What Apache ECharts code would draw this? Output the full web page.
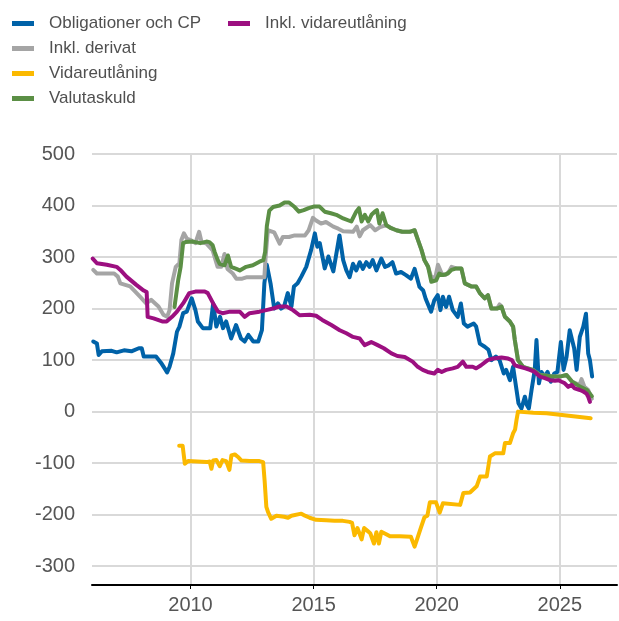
<!DOCTYPE html>
<html>
<head>
    <meta charset="utf-8">
    <style type="text/css">
        *, html, body {
            margin: 0;
            padding: 0;
        }
        html, body, #container {
            width: 619px;
            height: 621px;
            background: #fff;
        }
    </style>
    <script type="text/javascript" src="https://cdn.jsdelivr.net/npm/echarts@6/dist/echarts.min.js"></script>
</head>
<body>
<div id="container"></div>
<script type="text/javascript">
    // [år, mdr kr]
    let obligationer = [
        [2006.05,136],[2006.2,132],[2006.27,110],[2006.4,117],[2006.8,118],[2007.0,115],[2007.3,119],[2007.6,117],
        [2007.9,123],[2008.02,123],[2008.1,107],[2008.6,107],[2008.8,95],[2009.0,80],[2009.05,76],[2009.15,87],
        [2009.3,113],[2009.45,155],[2009.55,165],[2009.7,191],[2009.85,194],[2010.05,220],[2010.2,197],[2010.3,175],
        [2010.5,162],[2010.8,162],[2010.92,210],[2011.05,165],[2011.2,184],[2011.32,162],[2011.45,175],[2011.65,142],
        [2011.85,168],[2012.05,142],[2012.2,136],[2012.35,149],[2012.55,136],[2012.75,136],[2012.9,158],[2013.0,249],
        [2013.1,285],[2013.25,249],[2013.4,200],[2013.55,210],[2013.68,200],[2013.8,204],[2013.95,230],[2014.1,204],
        [2014.2,243],[2014.35,249],[2014.5,262],[2014.7,281],[2014.9,314],[2015.05,346],[2015.15,320],[2015.25,327],
        [2015.45,278],[2015.6,301],[2015.8,272],[2016.05,342],[2016.2,294],[2016.33,274],[2016.46,261],[2016.6,287],
        [2016.73,274],[2016.87,290],[2017.0,277],[2017.14,290],[2017.27,281],[2017.4,294],[2017.55,274],[2017.75,297],
        [2017.9,281],[2018.05,284],[2018.2,290],[2018.35,268],[2018.55,271],[2018.75,265],[2018.95,258],[2019.1,277],
        [2019.3,242],[2019.45,235],[2019.55,219],[2019.77,194],[2019.9,216],[2020.04,226],[2020.15,197],[2020.25,223],
        [2020.38,203],[2020.5,223],[2020.65,197],[2020.85,184],[2020.98,210],[2021.1,171],[2021.25,165],[2021.5,171],
        [2021.6,165],[2021.75,132],[2021.95,126],[2022.1,120],[2022.22,100],[2022.4,107],[2022.55,100],[2022.72,74],
        [2022.82,81],[2022.97,61],[2023.1,87],[2023.24,42],[2023.32,16],[2023.44,6],[2023.58,29],[2023.66,13],
        [2023.74,6],[2023.85,42],[2023.98,81],[2024.05,139],[2024.15,55],[2024.25,77],[2024.38,68],[2024.5,77],
        [2024.63,58],[2024.77,74],[2024.9,77],[2025.04,135],[2025.15,81],[2025.27,106],[2025.4,158],[2025.58,123],
        [2025.68,81],[2025.81,145],[2025.95,165],[2026.06,190],[2026.15,113],[2026.22,100],[2026.31,68]
    ];
    let inklDerivat = [
        [2006.05,275],[2006.2,268],[2006.9,268],[2007.05,262],[2007.15,249],[2007.55,243],[2007.95,223],[2008.2,210],
        [2008.4,217],[2008.7,204],[2008.9,188],[2009.05,184],[2009.15,197],[2009.25,249],[2009.4,281],[2009.55,288],
        [2009.63,333],[2009.73,346],[2009.85,336],[2010.0,333],[2010.2,327],[2010.35,349],[2010.45,329],[2010.65,326],
        [2010.9,313],[2011.1,281],[2011.25,281],[2011.38,306],[2011.5,277],[2011.72,268],[2011.86,258],[2012.1,258],
        [2012.3,261],[2012.6,261],[2013.0,261],[2013.05,300],[2013.14,352],[2013.4,348],[2013.62,326],[2013.75,339],
        [2014.0,339],[2014.23,342],[2014.5,342],[2014.65,342],[2014.8,352],[2014.97,376],[2015.1,371],[2015.3,365],
        [2015.5,368],[2015.8,359],[2016.0,355],[2016.2,350],[2016.6,349],[2016.75,359],[2016.87,340],[2017.0,352],
        [2017.3,362],[2017.5,352],[2017.7,358],[2017.95,362],[2018.15,356],[2018.36,352],[2018.6,349],[2018.9,349],
        [2019.1,352],[2019.24,333],[2019.38,314],[2019.5,294],[2019.65,281],[2019.78,260],[2019.95,262],[2020.05,285],
        [2020.12,288],[2020.2,268],[2020.35,265],[2020.5,272],[2020.6,281],[2020.8,278],[2021.0,278],[2021.14,249],
        [2021.4,243],[2021.6,243],[2021.75,230],[2021.95,220],[2022.08,226],[2022.22,200],[2022.45,200],[2022.55,208],
        [2022.63,204],[2022.77,184],[2022.97,175],[2023.1,165],[2023.17,139],[2023.3,100],[2023.5,87],[2023.9,81],
        [2024.2,71],[2024.7,68],[2025.0,68],[2025.27,71],[2025.5,58],[2025.8,52],[2025.88,63],[2026.0,48],
        [2026.15,42],[2026.3,25]
    ];
    let vidareutlaning = [
        [2009.54,-66],[2009.68,-66],[2009.77,-101],[2009.85,-104],[2009.9,-96],[2010.65,-98],[2010.78,-97],[2010.85,-111],
        [2010.92,-95],[2011.05,-94],[2011.19,-106],[2011.3,-94],[2011.45,-96],[2011.58,-113],[2011.66,-85],[2011.8,-83],
        [2011.93,-88],[2012.07,-95],[2012.4,-96],[2012.8,-96],[2012.95,-98],[2013.01,-134],[2013.08,-185],[2013.15,-195],
        [2013.28,-208],[2013.49,-202],[2013.8,-204],[2013.96,-206],[2014.1,-202],[2014.5,-198],[2014.65,-202],[2014.84,-206],
        [2015.1,-210],[2015.51,-211],[2015.85,-212],[2016.19,-212],[2016.46,-214],[2016.56,-216],[2016.66,-240],[2016.78,-226],
        [2016.95,-248],[2017.05,-226],[2017.2,-232],[2017.3,-236],[2017.45,-256],[2017.55,-234],[2017.65,-256],[2017.75,-233],
        [2017.95,-238],[2018.1,-242],[2018.5,-242],[2018.95,-243],[2019.1,-262],[2019.2,-248],[2019.35,-226],[2019.5,-205],
        [2019.62,-202],[2019.72,-176],[2019.97,-176],[2020.12,-196],[2020.25,-178],[2020.95,-181],[2021.08,-158],[2021.35,-157],
        [2021.62,-145],[2021.76,-126],[2022.03,-126],[2022.16,-87],[2022.36,-81],[2022.7,-81],[2022.77,-61],[2022.97,-61],
        [2023.1,-42],[2023.18,-35],[2023.24,-16],[2023.3,0],[2023.92,-2],[2024.46,-3],[2025.0,-6],[2025.54,-9],
        [2026.25,-13]
    ];
    let valutaskuld = [
        [2009.35,203],[2009.5,255],[2009.6,281],[2009.7,327],[2009.8,329],[2010.1,330],[2010.4,327],[2010.65,330],
        [2010.77,329],[2010.9,323],[2010.98,310],[2011.1,295],[2011.18,287],[2011.38,284],[2011.52,303],[2011.65,281],
        [2011.86,277],[2012.0,274],[2012.26,281],[2012.53,284],[2012.8,291],[2012.96,294],[2013.03,310],[2013.1,360],
        [2013.2,390],[2013.35,397],[2013.62,400],[2013.82,406],[2014.0,406],[2014.23,397],[2014.4,388],[2014.6,391],
        [2014.8,395],[2015.0,398],[2015.24,398],[2015.45,388],[2015.7,385],[2015.92,382],[2016.2,375],[2016.53,369],
        [2016.73,388],[2016.84,395],[2016.95,369],[2017.08,382],[2017.22,369],[2017.35,382],[2017.48,388],[2017.57,391],
        [2017.67,365],[2017.8,385],[2017.95,362],[2018.15,356],[2018.36,352],[2018.6,349],[2018.9,349],[2019.1,352],
        [2019.24,333],[2019.38,314],[2019.5,294],[2019.65,281],[2019.78,252],[2019.98,255],[2020.1,268],[2020.25,265],
        [2020.45,268],[2020.6,275],[2020.8,278],[2021.0,278],[2021.14,249],[2021.4,243],[2021.6,243],[2021.75,230],
        [2021.95,220],[2022.08,226],[2022.22,200],[2022.45,200],[2022.63,204],[2022.77,184],[2022.97,175],[2023.1,165],
        [2023.17,139],[2023.3,100],[2023.5,87],[2023.9,81],[2024.2,71],[2024.7,68],[2025.0,68],[2025.27,71],
        [2025.5,58],[2025.8,49],[2026.1,42],[2026.3,30]
    ];
    let inklVidareutlaning = [
        [2006.03,297],[2006.2,288],[2006.6,285],[2007.0,281],[2007.15,275],[2007.4,262],[2007.8,246],[2008.1,235],
        [2008.22,232],[2008.26,184],[2008.5,181],[2008.85,175],[2009.03,175],[2009.25,184],[2009.45,194],[2009.7,210],
        [2009.95,230],[2010.2,233],[2010.58,233],[2010.7,230],[2010.92,210],[2011.12,194],[2011.3,191],[2011.6,194],
        [2012.0,194],[2012.2,184],[2012.4,191],[2012.8,194],[2013.08,197],[2013.35,200],[2013.6,204],[2013.9,204],
        [2014.16,197],[2014.43,187],[2014.84,188],[2015.1,186],[2015.35,178],[2015.72,168],[2016.06,158],[2016.33,152],
        [2016.6,145],[2016.87,142],[2017.07,129],[2017.34,135],[2017.6,129],[2017.85,123],[2018.16,113],[2018.4,108],
        [2018.7,106],[2019.02,97],[2019.23,87],[2019.43,81],[2019.63,77],[2019.9,74],[2020.04,81],[2020.2,77],
        [2020.38,81],[2020.65,84],[2020.85,87],[2021.06,97],[2021.2,87],[2021.46,87],[2021.6,84],[2021.8,90],
        [2022.07,100],[2022.3,103],[2022.63,105],[2022.9,103],[2023.05,100],[2023.17,90],[2023.37,87],[2023.6,84],
        [2023.78,81],[2023.98,77],[2024.19,68],[2024.39,65],[2024.6,61],[2024.8,60],[2024.95,61],[2025.07,58],
        [2025.2,55],[2025.34,48],[2025.47,52],[2025.6,45],[2025.81,42],[2025.95,39],[2026.08,35],[2026.15,29],
        [2026.22,19]
    ];

    let names = ["Obligationer och CP", "Inkl. derivat", "Vidareutlåning", "Valutaskuld", "Inkl. vidareutlåning"];
    let colors = ["#0062a8", "#a5a5a5", "#fbb900", "#5b8f45", "#9c0f80"];
    let values = [obligationer, inklDerivat, vidareutlaning, valutaskuld, inklVidareutlaning];

    let font = "Liberation Sans, Arial, sans-serif";
    let myChart = echarts.init(document.getElementById("container"), null, {renderer: "canvas"});

    let legendBase = {
        orient: "vertical",
        top: 10,
        itemWidth: 22,
        itemHeight: 5,
        itemGap: 8,
        icon: "rect",
        selectedMode: false,
        textStyle: {
            fontFamily: font,
            fontSize: 17,
            lineHeight: 17,
            color: "#505050",
            padding: [0, 0, 0, 10]
        }
    };

    let option = {
        animation: false,
        backgroundColor: "#fff",
        color: colors,
        legend: [
            Object.assign({}, legendBase, {left: 7, data: names.slice(0, 4)}),
            Object.assign({}, legendBase, {left: 223, data: [names[4]]})
        ],
        grid: {left: 92, right: 2, top: 154, bottom: 36},
        xAxis: {
            type: "value",
            min: 2006,
            max: 2027.32,
            splitNumber: 4,
            minInterval: 5,
            maxInterval: 5,
            axisLine: {onZero: false, lineStyle: {color: "#000", width: 2}},
            axisTick: {show: true, length: 4, lineStyle: {color: "#000", width: 1}},
            axisLabel: {
                showMinLabel: false,
                showMaxLabel: false,
                fontFamily: font,
                fontSize: 20,
                color: "#555",
                margin: 10,
                formatter: function (v) {
                    return v % 5 === 0 ? String(v) : "";
                }
            },
            splitLine: {
                show: true,
                showMinLine: false,
                showMaxLine: false,
                lineStyle: {color: "#d9d9d9", width: 2}
            }
        },
        yAxis: {
            type: "value",
            min: -336.5,
            max: 500,
            splitNumber: 8,
            minInterval: 100,
            maxInterval: 100,
            axisLine: {show: false},
            axisTick: {show: false},
            axisLabel: {
                showMinLabel: false,
                fontFamily: font,
                fontSize: 20,
                color: "#555",
                margin: 17,
                formatter: function (v) {
                    return v % 100 === 0 ? String(v) : "";
                }
            },
            splitLine: {
                show: true,
                showMinLine: false,
                lineStyle: {color: "#d9d9d9", width: 2}
            }
        },
        series: names.map(function (name, i) {
            return {
                name: name,
                type: "line",
                data: values[i],
                showSymbol: false,
                symbol: "none",
                lineStyle: {width: 4, color: colors[i], join: "round", cap: "round"},
                itemStyle: {color: colors[i]},
                z: 2 + i
            };
        })
    };

    myChart.setOption(option);
</script>
</body>
</html>
